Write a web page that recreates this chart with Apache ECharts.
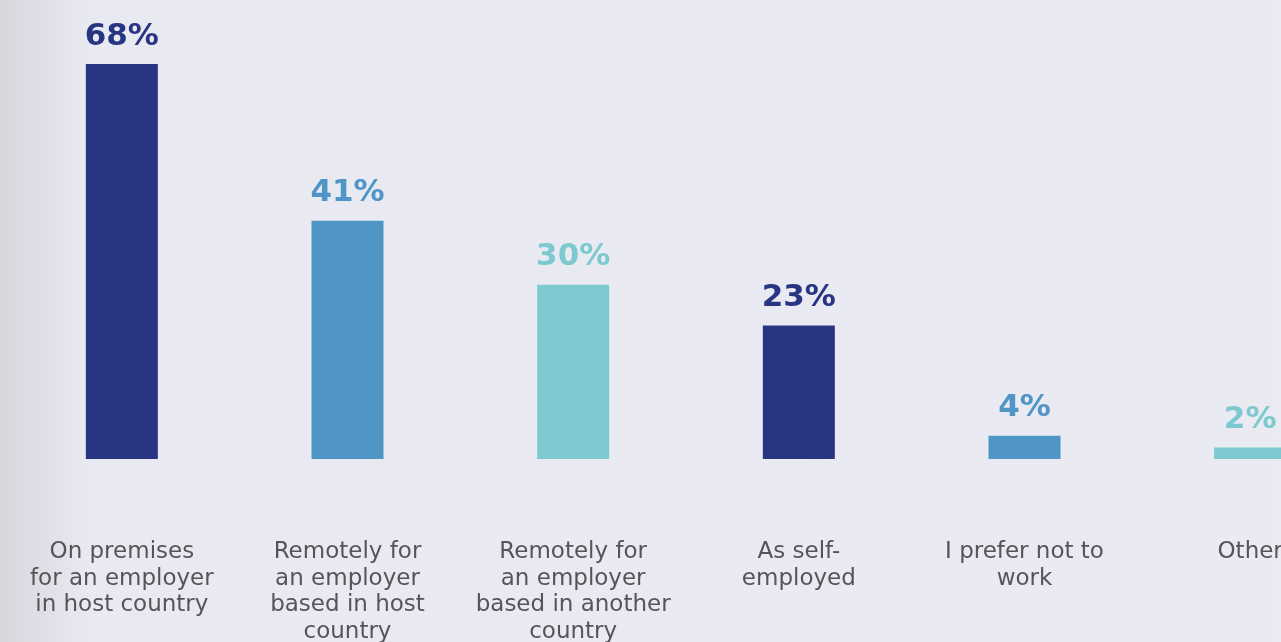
<!DOCTYPE html>
<html>
<head>
<meta charset="utf-8">
<script src="https://cdn.jsdelivr.net/npm/echarts@6/dist/echarts.min.js"></script>
<style>
  html, body { margin: 0; padding: 0; }
  #chart { width: 1281px; height: 642px; }
</style>
</head>
<body>
<div id="chart"></div>
<script>
// Work arrangements (share of respondents, %)
const categories = [
  'On premises\nfor an employer\nin host country',
  'Remotely for\nan employer\nbased in host\ncountry',
  'Remotely for\nan employer\nbased in another\ncountry',
  'As self-\nemployed',
  'I prefer not to\nwork',
  'Other'
];
const values = [68, 41, 30, 23, 4, 2];
const barColors = ['#283583', '#4f96c6', '#7ccacf', '#283583', '#4f96c6', '#7ccacf'];

const chart = echarts.init(document.getElementById('chart'));

chart.setOption({
  backgroundColor: {
    type: 'linear', x: 0, y: 0, x2: 1, y2: 0,
    colorStops: [
      { offset: 0, color: '#d6d7dd' },
      { offset: 0.07, color: '#e9eaf1' },
      { offset: 1, color: '#e9eaf2' }
    ]
  },
  animation: false,
  grid: {
    left: 9, width: 1354, top: 64, bottom: 183,
    containLabel: false,
    outerBoundsMode: 'none'
  },
  xAxis: {
    type: 'category',
    data: categories,
    axisLine: { show: false },
    axisTick: { show: false },
    axisLabel: {
      interval: 0,
      margin: 80,
      color: '#555559',
      fontFamily: 'DejaVu Sans',
      fontSize: 23,
      lineHeight: 26.5,
      align: 'center'
    }
  },
  yAxis: {
    type: 'value',
    min: 0,
    max: 68,
    show: false,
    splitLine: { show: false }
  },
  series: [{
    type: 'bar',
    barWidth: 72,
    data: values.map((v, i) => ({
      value: v,
      itemStyle: { color: barColors[i] },
      label: { color: barColors[i] }
    })),
    label: {
      show: true,
      position: 'top',
      distance: 12,
      formatter: '{c}%',
      fontFamily: 'DejaVu Sans',
      fontWeight: 'bold',
      fontSize: 31
    }
  }]
});
</script>
</body>
</html>
